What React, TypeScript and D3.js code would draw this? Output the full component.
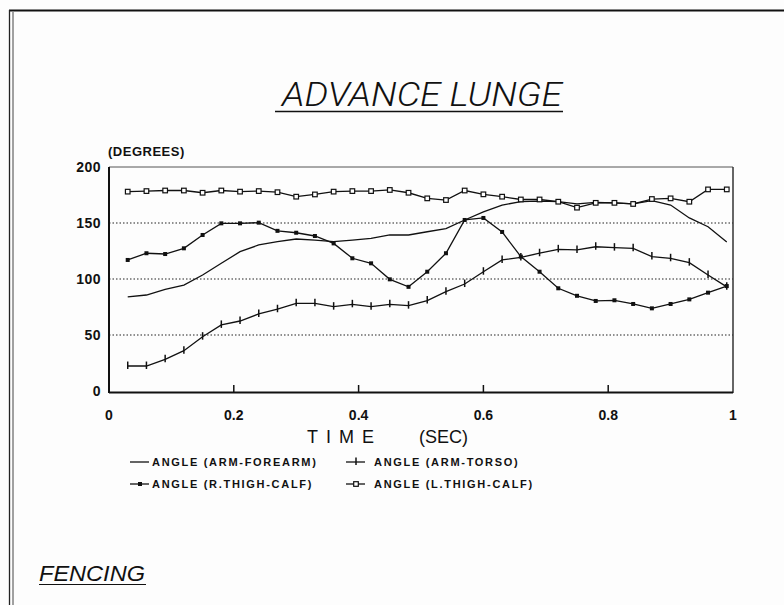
import React from 'react';
import * as d3 from 'd3';

// Sample times (sec)
const times = [
  0.03, 0.06, 0.09, 0.12, 0.15, 0.18, 0.21, 0.24, 0.27, 0.3, 0.33, 0.36, 0.39, 0.42, 0.45, 0.48, 0.51,
  0.54, 0.57, 0.6, 0.63, 0.66, 0.69, 0.72, 0.75, 0.78, 0.81, 0.84, 0.87, 0.9, 0.93, 0.96, 0.99,
];

// Angles in degrees
const armForearm = [
  84, 85.7, 90.8, 94.6, 103.6, 114, 124.4, 130.4, 133.3, 135.7, 134.8, 133.3, 134.8, 136.3, 139.3, 139.3, 142.2,
  145, 152.7, 160, 166, 169, 169.6, 169, 167, 168.5, 168, 167, 170, 166, 154.5, 146.7, 133,
];
const armTorso = [
  22.3, 22.3, 28.3, 36, 48.5, 59, 62.5, 68.8, 73, 78.3, 78.3, 75.3, 77.4, 75.3, 77.4, 76.2, 80.7,
  88.7, 95.5, 106.5, 117, 119.3, 123, 126.5, 126, 128.8, 128, 127.4, 120, 118.5, 114.6, 103.6, 93,
];
const rThighCalf = [
  117, 123, 122.3, 127.4, 139.3, 149.7, 149.7, 150.3, 143, 141.3, 138.4, 131.8, 118.5, 114, 99.7, 93, 106.5,
  123, 152.7, 154.5, 142, 120, 106.5, 91.7, 85, 80.4, 81, 77.7, 73.8, 77.7, 81.8, 87.8, 93.7,
];
const lThighCalf = [
  178, 178.5, 179, 179, 177, 179, 178, 178.5, 177.5, 173.5, 175.5, 178, 178.5, 178.5, 179.5, 177, 172,
  170.5, 179, 175.6, 173.5, 171, 171, 169, 163.7, 168, 168, 167, 171.4, 172, 169, 180, 180,
];

const xTicks = [0, 0.2, 0.4, 0.6, 0.8, 1];
const yTicks = [0, 50, 100, 150, 200];
const gridValues = [50, 100, 150];

const legendLabels = [
  'ANGLE (ARM-FOREARM)',
  'ANGLE (ARM-TORSO)',
  'ANGLE (R.THIGH-CALF)',
  'ANGLE (L.THIGH-CALF)',
];

type Marker = 'none' | 'tick' | 'filled' | 'open';

const W = 784;
const H = 605;
const left = 109;
const right = 733;
const top = 167;
const bottom = 391;

const font = '"Liberation Sans", Arial, Helvetica, sans-serif';

const x = d3.scaleLinear().domain([0, 1]).range([left, right]);
const y = d3.scaleLinear().domain([0, 200]).range([bottom, top]);

const line = d3
  .line<[number, number]>()
  .x((d) => x(d[0]))
  .y((d) => y(d[1]));

function MarkerShape({ cx, cy, kind }: { cx: number; cy: number; kind: Marker }) {
  if (kind === 'tick') {
    return <line x1={cx} x2={cx} y1={cy - 4.5} y2={cy + 3} stroke="#111" strokeWidth={1.5} />;
  }
  if (kind === 'filled') {
    return <rect x={cx - 2} y={cy - 2} width={4} height={4} fill="#111" />;
  }
  if (kind === 'open') {
    return <rect x={cx - 2.3} y={cy - 2.3} width={4.6} height={4.6} fill="#fff" stroke="#111" strokeWidth={1.2} />;
  }
  return null;
}

const series: { values: number[]; marker: Marker }[] = [
  { values: armForearm, marker: 'none' },
  { values: armTorso, marker: 'tick' },
  { values: rThighCalf, marker: 'filled' },
  { values: lThighCalf, marker: 'open' },
];

export default function App() {
  return (
    <svg
      width={W}
      height={H}
      viewBox={`0 0 ${W} ${H}`}
      style={{ position: 'absolute', left: 0, top: 0, background: '#fdfdfd' }}
    >
      {/* outer page border */}
      <line x1={9} x2={W} y1={10.5} y2={10.5} stroke="#111" strokeWidth={2} />
      <line x1={9.5} x2={9.5} y1={10} y2={H} stroke="#222" strokeWidth={1.3} />
      <line x1={13} x2={13} y1={12} y2={H} stroke="#444" strokeWidth={1} />

      {/* title */}
      <text
        x={422}
        y={106}
        textAnchor="middle"
        fontFamily='Roboto, "Liberation Sans", sans-serif'
        fontStyle="italic"
        fontWeight={300}
        fontSize={34}
        textLength={280}
        lengthAdjust="spacingAndGlyphs"
        fill="#111"
      >
        ADVANCE LUNGE
      </text>
      <line x1={275} x2={563} y1={111.5} y2={111.5} stroke="#111" strokeWidth={1.3} />

      {/* y unit label */}
      <text x={108} y={156} fontFamily={font} fontWeight="bold" fontSize={13} fill="#111" letterSpacing={0.5}>
        (DEGREES)
      </text>

      {/* grid lines */}
      {gridValues.map((v) => (
        <line
          key={v}
          x1={left}
          x2={right}
          y1={y(v)}
          y2={y(v)}
          stroke="#222"
          strokeWidth={1.2}
          strokeDasharray="1.5,2"
        />
      ))}

      {/* frame */}
      <line x1={left} x2={right} y1={top} y2={top} stroke="#555" strokeWidth={1} />
      <line x1={right} x2={right} y1={top} y2={bottom + 2} stroke="#333" strokeWidth={1.5} />
      <line x1={left} x2={left} y1={top} y2={bottom + 2} stroke="#111" strokeWidth={2} />
      <line x1={left} x2={right} y1={bottom + 1.5} y2={bottom + 1.5} stroke="#111" strokeWidth={2} />

      {/* x ticks */}
      {xTicks.slice(1, -1).map((t) => (
        <line key={t} x1={x(t)} x2={x(t)} y1={bottom + 1} y2={bottom - 6} stroke="#111" strokeWidth={1.5} />
      ))}
      {xTicks.map((t) => (
        <text
          key={t}
          x={x(t)}
          y={420}
          textAnchor="middle"
          fontFamily={font}
          fontWeight="bold"
          fontSize={14}
          fill="#111"
        >
          {t === 0 || t === 1 ? String(t) : t.toFixed(1)}
        </text>
      ))}

      {/* y tick labels */}
      {yTicks.map((v) => (
        <text
          key={v}
          x={101}
          y={y(v) + 5}
          textAnchor="end"
          fontFamily={font}
          fontWeight="bold"
          fontSize={14}
          fill="#111"
          letterSpacing={0.5}
        >
          {v}
        </text>
      ))}

      {/* x axis title */}
      <text x={307} y={443} fontFamily={font} fontSize={18} fill="#111" letterSpacing={8}>
        TIME
      </text>
      <text x={419} y={443} fontFamily={font} fontSize={18} fill="#111">
        (SEC)
      </text>

      {/* series */}
      {series.map((s, i) => {
        const pts = times.map((t, j) => [t, s.values[j]] as [number, number]);
        return (
          <g key={i}>
            <path d={line(pts) || ''} fill="none" stroke="#111" strokeWidth={1.3} />
            {pts.map((p, j) => (
              <MarkerShape key={j} cx={x(p[0])} cy={y(p[1])} kind={s.marker} />
            ))}
          </g>
        );
      })}

      {/* legend */}
      {legendLabels.map((label, i) => {
        const col = i === 0 || i === 2 ? 0 : 1;
        const row = i < 2 ? 0 : 1;
        const lx = col === 0 ? 130 : 346;
        const tx = col === 0 ? 152 : 374;
        const ly = row === 0 ? 466 : 488;
        return (
          <g key={label}>
            <line x1={lx} x2={lx + 19} y1={ly - 4} y2={ly - 4} stroke="#111" strokeWidth={1.3} />
            <MarkerShape cx={lx + 10} cy={ly - 4} kind={series[i].marker} />
            <text
              x={tx}
              y={ly}
              fontFamily={font}
              fontWeight="bold"
              fontSize={11}
              fill="#111"
              letterSpacing={1.7}
            >
              {label}
            </text>
          </g>
        );
      })}

      {/* footer */}
      <text
        x={39}
        y={581}
        fontFamily={font}
        fontStyle="italic"
        fontSize={22}
        fill="#111"
        textLength={106}
        lengthAdjust="spacingAndGlyphs"
      >
        FENCING
      </text>
      <line x1={39} x2={146} y1={584.5} y2={584.5} stroke="#111" strokeWidth={1.2} />
    </svg>
  );
}
